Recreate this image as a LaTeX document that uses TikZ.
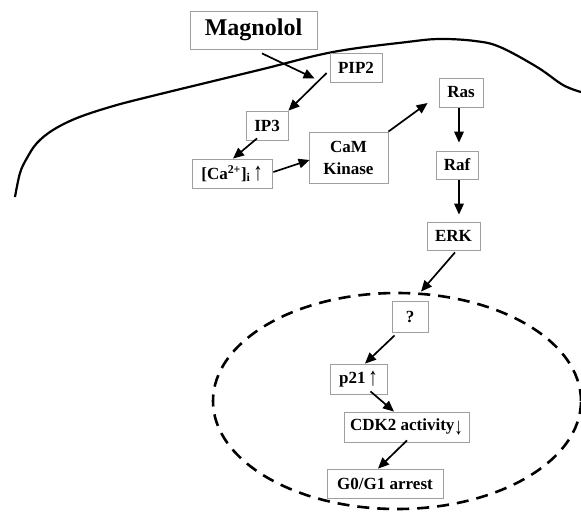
\documentclass[tikz,border=0pt]{standalone}
\usepackage{fontspec}
\usepackage{graphicx}
\setmainfont{Liberation Serif}
\usetikzlibrary{arrows.meta,calc}
\begin{document}
\begin{tikzpicture}[x=1pt,y=-1pt,
  box/.style={draw=gray!75, line width=0.8pt, inner sep=0pt, align=center,
    font=\bfseries\fontsize{17}{22}\selectfont},
  arr/.style={line width=1.7pt, -{Triangle[length=11pt,width=9.5pt]}},
  membrane/.style={line width=2.2pt},
  nucleus/.style={line width=2.6pt, dash pattern=on 12pt off 8pt}]
\useasboundingbox (0,0) rectangle (581,512);

% membrane
\draw[membrane] plot[smooth, tension=0.6] coordinates {(15,197) (20,173) (27,158) (37,143) (53,130) (77,118) (110,107) (148,97) (259,70) (333,52) (407,42) (440,39) (475,41) (500,47) (537,67) (563,85) (581,92)};

% nucleus
\draw[nucleus] (397,401) ellipse [x radius=184pt, y radius=108pt];

% nodes
\node[box, minimum width=127, minimum height=38, font=\bfseries\fontsize{24}{26}\selectfont] (mag) at (253.5,30) {Magnolol};
\node[box, minimum width=52, minimum height=29] (pip) at (356,67.5) {PIP2};
\node[box, minimum width=42, minimum height=29] (ip3) at (267,125.5) {IP3};
\node[box, minimum width=80, minimum height=29] (ca) at (232,173.5) {[Ca\textsuperscript{2+}]\textsubscript{i}\,\raisebox{-0.2ex}{\scalebox{1.1}[1.5]{↑}}};
\node[box, minimum width=79, minimum height=51] (cam) at (348.5,157.5) {CaM\\Kinase};
\node[box, minimum width=44, minimum height=29] (ras) at (461,92.5) {Ras};
\node[box, minimum width=42, minimum height=28] (raf) at (457,165) {Raf};
\node[box, minimum width=53, minimum height=28] (erk) at (453.5,236) {ERK};
\node[box, minimum width=36, minimum height=31] (q) at (410,316.5) {?};
\node[box, minimum width=57, minimum height=30] (p21) at (358.5,379) {p21\,\raisebox{-0.2ex}{\scalebox{1.1}[1.5]{↑}}};
\node[box, minimum width=125, minimum height=30] (cdk) at (406.5,427) {CDK2 activity\raisebox{-0.6ex}{\scalebox{1}[1.4]{↓}}};
\node[box, minimum width=116, minimum height=29] (g0) at (385,483.5) {G0/G1 arrest};

% connectors
\draw[arr] ($(mag.south)+(8.5,4)$) -- ($(pip.west)+(-15,11)$);
\draw[arr] ($(pip.west)+(-3,5.5)$) -- (ip3.north east);
\draw[arr] ($(ip3.south)+(-10,-2)$) -- ($(ca.north)+(1,0)$);
\draw[arr] ($(ca.east)+(1,-1.5)$) -- ($(cam.west)+(1,2.5)$);
\draw[arr] (cam.north east) -- ($(ras.west)+(-11,10.5)$);
\draw[arr] ($(ras.south)+(-2,1)$) -- ($(raf.north)+(2,-8)$);
\draw[arr] ($(raf.south)+(2,1)$) -- ($(erk.north)+(5.5,-7)$);
\draw[arr] ($(erk.south)+(1.5,2)$) -- ($(q.north)+(11,-9)$);
\draw[arr] ($(q.south west)+(3,3)$) -- ($(p21.north)+(6.5,0)$);
\draw[arr] ($(p21.south)+(12,-3)$) -- ($(cdk.north)+(-12.5,0)$);
\draw[arr] ($(cdk.south)+(0.5,-2)$) -- ($(g0.north)+(-7,0)$);
\end{tikzpicture}
\end{document}
